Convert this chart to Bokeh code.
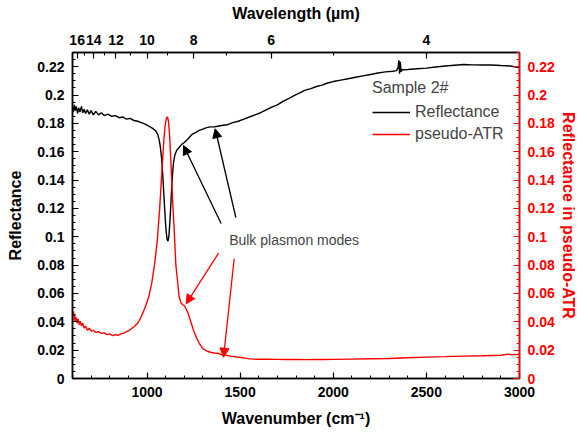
import math
from bokeh.plotting import figure
from bokeh.models import (Range1d, LinearAxis, FixedTicker, SingleIntervalTicker,
                          CustomJSTickFormatter, Legend, LegendItem, Arrow, NormalHead, Label, Title)
from bokeh.embed import file_html
from bokeh.resources import INLINE

# ---------------- data ----------------
refl_wn = [600, 605, 610, 615, 620, 627, 633, 640, 648, 655, 663, 670, 680, 690, 700, 712, 725,
           740, 755, 770, 790, 810, 830, 850, 870, 890, 910, 930, 950, 970, 990, 1010, 1030, 1045,
           1058, 1066, 1072, 1078, 1084, 1090, 1096, 1102, 1108, 1113, 1118, 1124, 1130, 1136,
           1142, 1150, 1160, 1172, 1185, 1200, 1220, 1240, 1260, 1280, 1300, 1320, 1340, 1360,
           1380, 1400, 1430, 1460, 1490, 1520, 1550, 1580, 1610, 1640, 1670, 1700, 1730, 1760,
           1790, 1820, 1850, 1880, 1910, 1940, 1970, 2000, 2040, 2080, 2120, 2160, 2200, 2240,
           2280, 2320, 2340, 2348, 2352, 2356, 2360, 2364, 2370, 2400, 2450, 2500, 2550, 2600,
           2650, 2700, 2750, 2800, 2850, 2900, 2950, 2980, 3000]
refl_val = [0.191, 0.188, 0.193, 0.189, 0.192, 0.187, 0.191, 0.188, 0.192, 0.1875, 0.190, 0.187,
            0.1895, 0.1865, 0.189, 0.186, 0.1885, 0.186, 0.1875, 0.1855, 0.1865, 0.185, 0.1855,
            0.184, 0.1845, 0.183, 0.1835, 0.182, 0.1815, 0.1805, 0.1795, 0.178, 0.1765, 0.175,
            0.172, 0.168, 0.163, 0.156, 0.145, 0.131, 0.117, 0.105, 0.098, 0.097, 0.101, 0.113,
            0.128, 0.142, 0.152, 0.158, 0.161, 0.163, 0.165, 0.1665, 0.169, 0.172, 0.1735, 0.175,
            0.176, 0.177, 0.1775, 0.1775, 0.178, 0.1785, 0.179, 0.1805, 0.1815, 0.183, 0.1845,
            0.186, 0.1875, 0.1895, 0.1915, 0.193, 0.1955, 0.1975, 0.1995, 0.2015, 0.2035, 0.2045,
            0.206, 0.207, 0.2085, 0.2095, 0.2105, 0.2115, 0.2125, 0.2135, 0.2145, 0.2155, 0.2163,
            0.2168, 0.2172, 0.2195, 0.2245, 0.2150, 0.2235, 0.2165, 0.2178, 0.2180, 0.2185,
            0.2190, 0.2198, 0.2205, 0.2210, 0.2215, 0.2213, 0.2212, 0.2212, 0.2208, 0.2205,
            0.2198, 0.2195]

atr_wn = [600, 603, 606, 609, 612, 616, 620, 625, 630, 636, 642, 648, 655, 662, 670, 680, 690,
          700, 712, 725, 740, 755, 770, 785, 800, 815, 830, 845, 860, 875, 890, 905, 920, 935,
          950, 965, 980, 995, 1010, 1025, 1040, 1055, 1068, 1080, 1090, 1098, 1105, 1110, 1116,
          1122, 1130, 1138, 1146, 1155, 1163, 1172, 1182, 1192, 1200, 1210, 1222, 1235, 1250,
          1265, 1280, 1300, 1320, 1340, 1360, 1380, 1400, 1420, 1450, 1480, 1510, 1540, 1570,
          1600, 1650, 1700, 1750, 1800, 1850, 1900, 1950, 2000, 2100, 2200, 2300, 2400, 2500,
          2600, 2700, 2800, 2900, 2940, 2960, 3000]
atr_val = [0.050, 0.044, 0.047, 0.041, 0.045, 0.040, 0.043, 0.039, 0.042, 0.038, 0.0405, 0.037,
           0.039, 0.0355, 0.037, 0.034, 0.0355, 0.0335, 0.034, 0.0325, 0.033, 0.0318, 0.0322,
           0.031, 0.0315, 0.0302, 0.031, 0.0305, 0.0315, 0.032, 0.033, 0.034, 0.0355, 0.037,
           0.039, 0.0425, 0.047, 0.052, 0.058, 0.067, 0.080, 0.097, 0.120, 0.146, 0.167, 0.179,
           0.184, 0.1845, 0.181, 0.170, 0.148, 0.124, 0.105, 0.080, 0.070, 0.058, 0.0535, 0.052,
           0.0515, 0.0490, 0.0455, 0.040, 0.034, 0.029, 0.025, 0.021, 0.0195, 0.0185, 0.018,
           0.0178, 0.0168, 0.0165, 0.0158, 0.0152, 0.0148, 0.0140, 0.0137, 0.0136, 0.0136,
           0.0135, 0.0134, 0.0135, 0.0133, 0.0134, 0.0134, 0.0135, 0.0137, 0.0139, 0.0141,
           0.0146, 0.0151, 0.0154, 0.0158, 0.0160, 0.0164, 0.0172, 0.0168, 0.0170]

wavelength_major = [16, 14, 12, 10, 8, 6, 4]        # µm
wavelength_minor = [15, 13, 11, 9, 7, 5]            # µm

annot_text = "Bulk plasmon modes"
annot_pos = (1441, 0.0974)
# arrows: (x_start, y_start, x_end, y_end)
black_arrows = [(1398, 0.1094, 1196, 0.1644), (1477, 0.1136, 1366, 0.1762)]
red_arrows = [(1384, 0.0884, 1210, 0.0527), (1468, 0.0845, 1411, 0.0150)]

FONT = "Liberation Sans"
RED = "#ff0000"

# ---------------- figure ----------------
p = figure(width=583, height=434, x_range=Range1d(600, 3000), y_range=Range1d(0, 0.23),
           output_backend="svg", toolbar_location=None,
           min_border_left=72, min_border_right=64, min_border_top=52, min_border_bottom=56)
p.xgrid.visible = False
p.ygrid.visible = False
p.outline_line_color = "black"
p.outline_line_width = 1.5
p.background_fill_color = "white"
p.border_fill_color = "white"
p.extra_y_ranges = {"atr": Range1d(0, 0.23)}

r1 = p.line(refl_wn, refl_val, line_color="black", line_width=1.4)
r2 = p.line(atr_wn, atr_val, line_color=RED, line_width=1.4, y_range_name="atr")

yfmt = CustomJSTickFormatter(code="""
let s = tick.toFixed(2); s = s.replace(/0+$/, ''); s = s.replace(/\\.$/, ''); return s;""")


def style(ax, color):
    ax.axis_line_color = color
    ax.axis_line_width = 1.5
    ax.major_tick_line_color = color
    ax.minor_tick_line_color = color
    ax.major_tick_line_width = 1.2
    ax.minor_tick_line_width = 1.0
    ax.major_tick_in = 6
    ax.major_tick_out = 0
    ax.minor_tick_in = 3
    ax.minor_tick_out = 0
    ax.major_label_text_color = color
    ax.major_label_text_font = FONT
    ax.major_label_text_font_style = "bold"
    ax.major_label_text_font_size = "14px"
    ax.major_label_standoff = 8
    ax.axis_label_text_color = color
    ax.axis_label_text_font = FONT
    ax.axis_label_text_font_style = "bold"
    ax.axis_label_text_font_size = "16px"
    ax.axis_label_standoff = 10


xa = p.xaxis[0]
xa.ticker = SingleIntervalTicker(interval=500, num_minor_ticks=5)
xa.axis_label = "Wavenumber (cm\u207b\u00b9)"
style(xa, "black")

ya = p.yaxis[0]
ya.ticker = SingleIntervalTicker(interval=0.02, num_minor_ticks=4)
ya.formatter = yfmt
ya.axis_label = "Reflectance"
style(ya, "black")

yr = LinearAxis(y_range_name="atr",
                ticker=SingleIntervalTicker(interval=0.02, num_minor_ticks=4), formatter=yfmt)
style(yr, RED)
p.add_layout(yr, "right")

# right-axis title, reading top-to-bottom as in the original
p.add_layout(Title(text="Reflectance in pseudo-ATR", align="center", text_color=RED,
                   text_font=FONT, text_font_size="16px", text_font_style="bold",
                   standoff=4, offset=0), "right")

xt = LinearAxis(axis_label="Wavelength (\u00b5m)",
                ticker=FixedTicker(ticks=[10000.0 / w for w in wavelength_major],
                                   minor_ticks=[10000.0 / w for w in wavelength_minor]),
                formatter=CustomJSTickFormatter(code="return String(Math.round(10000/tick));"))
style(xt, "black")
p.add_layout(xt, "above")

legend = Legend(items=[LegendItem(label="Reflectance", renderers=[r1]),
                       LegendItem(label="pseudo-ATR", renderers=[r2])],
                title="Sample 2#", location=(300, 234),
                title_text_font=FONT, title_text_font_size="16px", title_text_font_style="normal",
                label_text_font=FONT, label_text_font_size="16px",
                glyph_width=38, glyph_height=20, label_height=20, spacing=2,
                padding=2, margin=0, border_line_color=None, background_fill_alpha=0,
                title_standoff=5)
p.add_layout(legend)

p.add_layout(Label(x=annot_pos[0], y=annot_pos[1], text=annot_text, text_font=FONT,
                   text_font_size="14px", text_baseline="middle", text_align="left"))

for (xs, ys, xe, ye) in black_arrows:
    p.add_layout(Arrow(x_start=xs, y_start=ys, x_end=xe, y_end=ye, line_color="black",
                       line_width=1.3,
                       end=NormalHead(size=9, fill_color="black", line_color="black")))
for (xs, ys, xe, ye) in red_arrows:
    p.add_layout(Arrow(x_start=xs, y_start=ys, x_end=xe, y_end=ye, line_color=RED,
                       line_width=1.3, y_range_name="atr",
                       end=NormalHead(size=9, fill_color=RED, line_color=RED)))

open("out.html", "w").write(file_html(p, INLINE))
